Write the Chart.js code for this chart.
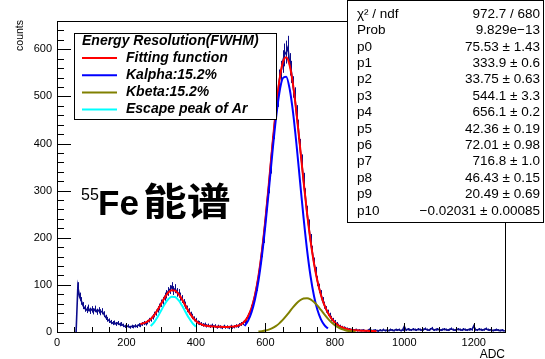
<!DOCTYPE html>
<html><head><meta charset="utf-8">
<script src="https://cdn.jsdelivr.net/npm/chart.js@4"></script>
<style>html,body{margin:0;padding:0;background:#fff;overflow:hidden}#wrap{width:545px;height:359px;position:relative}</style>
</head><body><div id="wrap"><canvas id="c" width="545" height="359"></canvas></div>
<script>
// ---------- DATA ----------
// measured histogram, bins of 5 ADC starting at ADC 55
const dataStartAdc = 55;
const dataBinWidth = 5;
const dataCounts = [
  0, 96, 75, 66, 56, 50, 47, 51, 45, 48, 44, 49, 43, 46, 42, 44, 38, 31, 27, 24,   // 55-150
  21, 19, 20, 17, 19, 16, 17, 14, 12, 11, 13, 10, 12, 11, 13, 12, 15, 14, 17, 19,  // 155-250
  18, 21, 25, 27, 32, 37, 41, 48, 53, 61, 66, 75, 80, 86, 90, 96, 88, 92, 84, 82,  // 255-350
  75, 70, 62, 57, 49, 44, 37, 33, 28, 25, 20, 19, 17, 15, 16, 13, 14, 12, 14, 11,  // 355-450
  13, 10, 12, 11, 9, 12, 10, 11, 9, 12, 10, 11, 13, 12, 15, 17, 19, 23, 26, 33,    // 455-550
  41, 50, 63, 78, 97, 117, 142, 172, 203, 238, 276, 312, 355, 395, 430, 472, 500, 534, 552, 574, // 555-650
  588, 594, 604, 568, 552, 520, 497, 460, 430, 390, 358, 320, 288, 252, 224, 194, 170, 146, 127, 108, // 655-750
  93, 80, 66, 57, 48, 41, 35, 29, 25, 21, 17, 14, 12, 10, 9, 8, 7, 6, 5, 5,        // 755-850
  4, 5, 3, 4, 3, 4, 3, 2, 3, 6, 3, 3, 4, 3, 2, 4, 3, 5, 3, 4,                      // 855-950
  3, 5, 4, 3, 5, 4, 5, 3, 4, 12, 4, 6, 5, 4, 6, 5, 4, 6, 5, 4,                     // 955-1050
  5, 7, 5, 4, 6, 8, 4, 5, 6, 5, 4, 5, 6, 5, 4, 5, 7, 5, 4, 5,                      // 1055-1150
  6, 5, 4, 6, 5, 4, 5, 6, 5, 13, 5, 4, 6, 5, 4, 5, 7, 5, 4, 5,                     // 1155-1250
  3, 4, 5, 4, 3, 4, 3, 2                                                           // 1255-1290
];

// fit curves, sampled every 10 ADC
const curveStep = 10;
const fitStartAdc = 240;
const fitTotal = [
  17.2, 18.9, 22.1, 27.6, 35.9, 47.0, 60.0, 73.0, 83.4, 88.8, 87.9, 80.8, 69.2, 55.6, 42.5, 31.6, 23.5, 18.1, 14.9, 13.1,
  12.1, 11.6, 11.2, 11.0, 10.8, 10.8, 10.9, 11.6, 13.1, 16.2, 22.3, 33.0, 50.9, 78.3, 118.0, 171.3, 237.6, 314.1, 394.5, 470.2,
  532.0, 571.4, 583.0, 565.8, 523.4, 462.5, 391.7, 319.4, 252.1, 193.7, 145.6, 107.7, 78.7, 56.9, 40.7, 28.9, 20.4, 14.4, 10.3, 7.5,
  5.5, 4.4, 3.6, 3.1, 2.8, 2.5, 2.2, 2.0, 1.8
];
const kalphaStartAdc = 540;
const kalphaCurve = [12.7, 23.6, 41.5, 68.9, 108.3, 161.1, 226.3, 300.9, 378.4, 450.0, 506.2, 538.5, 541.8,
  515.6, 464.1, 395.0, 318.0, 242.1, 174.4, 118.8, 76.5, 46.6, 26.9, 14.6, 7.55];
const kbetaStartAdc = 580;
const kbetaCurve = [0.94, 1.73, 3.04, 5.11, 8.19, 12.5, 18.3, 25.6, 34.1, 43.3, 52.6, 61.0, 67.4, 71.2, 71.8,
  69.2, 63.6, 55.8, 46.7, 37.4, 28.5, 20.8, 14.5, 9.6, 6.1, 3.7, 2.1, 1.2, 0.6];
const escapeStartAdc = 270;
const escapeCurve = [12.6, 21.1, 32.4, 45.6, 58.8, 69.4, 75.0, 74.3, 67.4, 56.0, 42.6, 29.7, 19.0, 11.1];

// axes
const xTickValues = [0, 200, 400, 600, 800, 1000, 1200];
const yTickValues = [0, 100, 200, 300, 400, 500, 600];
const xMinorStep = 50, yMinorStep = 20;
const xRange = [0, 1290], yRange = [0, 660];

// legend and statistics texts
const legendTitle = 'Energy Resolution(FWHM)';
const legendLabels = ['Fitting function', 'Kalpha:15.2%', 'Kbeta:15.2%', 'Escape peak of Ar'];
const statNames = ['χ² / ndf', 'Prob', 'p0', 'p1', 'p2', 'p3', 'p4', 'p5', 'p6', 'p7', 'p8', 'p9', 'p10'];
const statValues = ['972.7 / 680', '9.829e−13', '75.53 ± 1.43', '333.9 ± 0.6', '33.75 ± 0.63', '544.1 ± 3.3',
  '656.1 ± 0.2', '42.36 ± 0.19', '72.01 ± 0.98', '716.8 ± 1.0', '46.43 ± 0.15', '20.49 ± 0.69', '−0.02031 ± 0.00085'];

// ---------- STYLE ----------
const colData = '#0c0c8c', colFit = '#ff0000', colKa = '#0000ff', colKb = '#808000', colEsc = '#00ffff';
const legendColors = [colFit, colKa, colKb, colEsc];
const SANS = '"Liberation Sans", Arial, Helvetica, sans-serif';

function pts(start, step, arr) { return arr.map((v, i) => ({ x: start + step * i, y: v })); }

// Poisson error bars of the histogram (drawn under the fit curves)
const errorBars = {
  id: 'errorBars',
  beforeDatasetsDraw(chart) {
    const ctx = chart.ctx, xs = chart.scales.x, ys = chart.scales.y, a = chart.chartArea;
    ctx.save();
    ctx.beginPath(); ctx.rect(a.left, a.top, a.right - a.left, a.bottom - a.top); ctx.clip();
    ctx.strokeStyle = colData; ctx.lineWidth = 1;
    ctx.beginPath();
    dataCounts.forEach((c, i) => {
      if (c <= 0) return;
      const e = Math.sqrt(c);
      const px = Math.round(xs.getPixelForValue(dataStartAdc + dataBinWidth * i)) + 0.5;
      ctx.moveTo(px, ys.getPixelForValue(c - e)); ctx.lineTo(px, ys.getPixelForValue(c + e));
    });
    ctx.stroke();
    ctx.restore();
  }
};

const decor = {
  id: 'decor',
  afterDraw(chart) {
    const ctx = chart.ctx, a = chart.chartArea;
    const xs = chart.scales.x, ys = chart.scales.y;
    ctx.save();
    ctx.strokeStyle = '#000'; ctx.lineWidth = 1;
    // frame
    ctx.strokeRect(Math.round(a.left) + 0.5, Math.round(a.top) + 0.5, Math.round(a.right - a.left), Math.round(a.bottom - a.top));
    // ticks inside the frame
    ctx.beginPath();
    for (let v = xRange[0]; v <= xRange[1]; v += xMinorStep) {
      const px = Math.round(xs.getPixelForValue(v)) + 0.5;
      const len = (v % 200 === 0) ? 9 : 5;
      ctx.moveTo(px, a.bottom); ctx.lineTo(px, a.bottom - len);
    }
    for (let v = yRange[0]; v <= yRange[1]; v += yMinorStep) {
      const py = Math.round(ys.getPixelForValue(v)) + 0.5;
      const len = (v % 100 === 0) ? 14 : 7;
      ctx.moveTo(a.left, py); ctx.lineTo(a.left + len, py);
    }
    ctx.stroke();

    // axis titles
    ctx.fillStyle = '#000';
    ctx.font = '10.5px ' + SANS;
    ctx.save(); ctx.translate(23, a.top - 1); ctx.rotate(-Math.PI / 2);
    ctx.textAlign = 'right'; ctx.textBaseline = 'alphabetic'; ctx.fillText('counts', 0, 0); ctx.restore();
    ctx.font = '12px ' + SANS; ctx.textAlign = 'right'; ctx.textBaseline = 'alphabetic';
    ctx.fillText('ADC', a.right, 358);

    // legend
    const lx = 74.5, ly = 33.5, lw = 202, lh = 86;
    ctx.fillStyle = '#fff'; ctx.fillRect(lx, ly, lw, lh); ctx.strokeRect(lx, ly, lw, lh);
    ctx.fillStyle = '#000'; ctx.font = 'italic bold 14px ' + SANS; ctx.textAlign = 'left'; ctx.textBaseline = 'middle';
    ctx.fillText(legendTitle, 82, 41);
    legendLabels.forEach((t, i) => {
      const cy = 58 + i * 17.2;
      ctx.strokeStyle = legendColors[i]; ctx.lineWidth = 2;
      ctx.beginPath(); ctx.moveTo(82, cy); ctx.lineTo(117, cy); ctx.stroke();
      ctx.fillStyle = '#000'; ctx.fillText(t, 126, cy);
    });

    // stats box
    ctx.strokeStyle = '#000'; ctx.lineWidth = 1;
    ctx.fillStyle = '#fff'; ctx.fillRect(347.5, 0.5, 196, 222); ctx.strokeRect(347.5, 0.5, 196, 222);
    ctx.fillStyle = '#000'; ctx.font = '13.5px ' + SANS; ctx.textBaseline = 'middle';
    statNames.forEach((n, i) => {
      const cy = 14 + i * 16.4;
      ctx.textAlign = 'left'; ctx.fillText(n, 357, cy);
      ctx.textAlign = 'right'; ctx.fillText(statValues[i], 540, cy);
    });

    // big label
    ctx.textAlign = 'left'; ctx.textBaseline = 'alphabetic';
    ctx.font = '16px ' + SANS; ctx.fillText('55', 81, 200);
    ctx.font = 'bold 35px ' + SANS; ctx.fillText('Fe', 98, 215);
    ctx.save(); ctx.translate(143, 215); ctx.scale(1.15, 1);
    ctx.font = 'bold 38px "Noto Sans CJK SC", sans-serif'; ctx.fillText('能谱', 0, 0); ctx.restore();
    ctx.restore();
  }
};

const lineBase = { pointRadius: 0, fill: false, borderWidth: 2 };
new Chart(document.getElementById('c'), {
  type: 'line',
  data: {
    datasets: [
      Object.assign({}, lineBase, { label: 'data', data: pts(dataStartAdc, dataBinWidth, dataCounts), borderColor: colData, borderWidth: 1.6, tension: 0, order: 5 }),
      Object.assign({}, lineBase, { label: legendLabels[0], data: pts(fitStartAdc, curveStep, fitTotal), borderColor: colFit, cubicInterpolationMode: 'monotone', order: 4 }),
      Object.assign({}, lineBase, { label: legendLabels[1], data: pts(kalphaStartAdc, curveStep, kalphaCurve), borderColor: colKa, cubicInterpolationMode: 'monotone', order: 3 }),
      Object.assign({}, lineBase, { label: legendLabels[2], data: pts(kbetaStartAdc, curveStep, kbetaCurve), borderColor: colKb, cubicInterpolationMode: 'monotone', order: 2 }),
      Object.assign({}, lineBase, { label: legendLabels[3], data: pts(escapeStartAdc, curveStep, escapeCurve), borderColor: colEsc, cubicInterpolationMode: 'monotone', order: 1 })
    ]
  },
  options: {
    responsive: false, animation: false, devicePixelRatio: 1,
    layout: { padding: { top: 21, right: 40, left: 0, bottom: 0 } },
    plugins: { legend: { display: false }, tooltip: { enabled: false } },
    scales: {
      x: {
        type: 'linear', min: xRange[0], max: xRange[1],
        grid: { display: false, drawTicks: false }, border: { display: false },
        ticks: { color: '#000', font: { family: SANS, size: 11 }, padding: 4, maxRotation: 0, includeBounds: false, callback: v => String(v) },
        afterBuildTicks(s) { s.ticks = xTickValues.map(v => ({ value: v })); },
        afterFit(s) { s.height = 27; }
      },
      y: {
        type: 'linear', min: yRange[0], max: yRange[1],
        grid: { display: false, drawTicks: false }, border: { display: false },
        ticks: { color: '#000', font: { family: SANS, size: 11 }, padding: 5, includeBounds: false, callback: v => String(v) },
        afterBuildTicks(s) { s.ticks = yTickValues.map(v => ({ value: v })); },
        afterFit(s) { s.width = 57; }
      }
    }
  },
  plugins: [errorBars, decor]
});
</script></body></html>
